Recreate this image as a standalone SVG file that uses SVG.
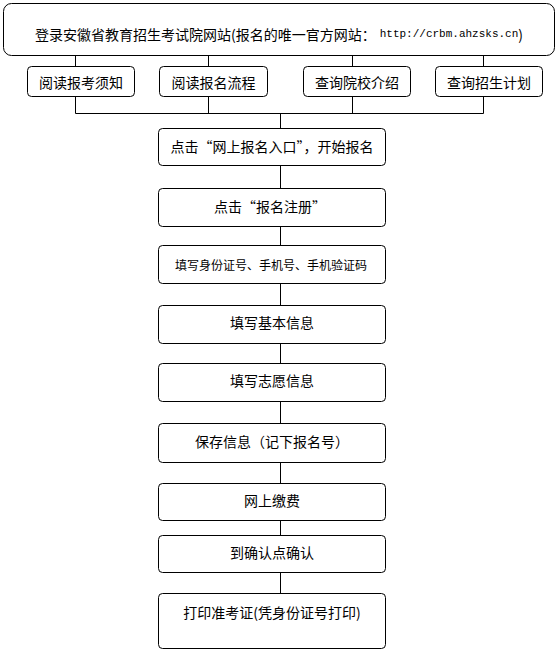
<svg xmlns="http://www.w3.org/2000/svg" width="558" height="666" viewBox="0 0 558 666">
<style>
.box{fill:#fff;stroke:#000;stroke-width:1}
.t{font-family:"Noto Sans CJK SC","Noto Sans",sans-serif;font-size:14px;fill:#000;text-anchor:middle;dominant-baseline:central}
.u{font-family:"Liberation Mono",monospace;font-size:11px}
.c{stroke:#000;stroke-width:1;fill:none}
</style>
<rect width="558" height="666" fill="#fff"/>
<g id="connectors">
<path class="c" d="M75.5 55V66M208.5 55V66M352.5 55V66M483.5 55V66"/>
<path class="c" d="M75.5 96V113.5H483.5V96M208.5 96V113.5M352.5 96V113.5M280.5 113.5V128"/>
<path class="c" d="M280.5 165V188M280.5 226V245M280.5 283V305M280.5 343V363M280.5 401V423M280.5 462V483M280.5 520V535M280.5 572V593"/>
</g>
<g id="n0"><rect class="box" x="3.5" y="3.5" width="551" height="52" rx="8"/>
<text class="t" x="279" y="34"><tspan>登录安徽省教育招生考试院网站(报名的唯一官方网站：</tspan><tspan class="u" dx="4">http://crbm.ahzsks.cn</tspan><tspan>)</tspan></text></g>
<g id="n1"><rect class="box" x="27.5" y="66.5" width="107" height="30" rx="4"/><text class="t" x="81" y="82">阅读报考须知</text></g>
<g id="n2"><rect class="box" x="159.5" y="66.5" width="108" height="30" rx="4"/><text class="t" x="213.5" y="82">阅读报名流程</text></g>
<g id="n3"><rect class="box" x="303.5" y="66.5" width="107" height="30" rx="4"/><text class="t" x="357" y="82">查询院校介绍</text></g>
<g id="n4"><rect class="box" x="435.5" y="66.5" width="107" height="30" rx="4"/><text class="t" x="489" y="82">查询招生计划</text></g>
<g id="s1"><rect class="box" x="158.5" y="128.5" width="227" height="37" rx="4"/><text class="t" x="272" y="146">点击“网上报名入口”，开始报名</text></g>
<g id="s2"><rect class="box" x="158.5" y="188.5" width="227" height="38" rx="4"/><text class="t" x="270" y="206">点击“报名注册”</text></g>
<g id="s3"><rect class="box" x="158.5" y="245.5" width="227" height="38" rx="4"/><text class="t" x="271" y="264" style="font-size:12px">填写身份证号、手机号、手机验证码</text></g>
<g id="s4"><rect class="box" x="158.5" y="305.5" width="227" height="38" rx="4"/><text class="t" x="272" y="322">填写基本信息</text></g>
<g id="s5"><rect class="box" x="158.5" y="363.5" width="227" height="38" rx="4"/><text class="t" x="272" y="380">填写志愿信息</text></g>
<g id="s6"><rect class="box" x="158.5" y="423.5" width="227" height="39" rx="4"/><text class="t" x="272" y="441">保存信息（记下报名号）</text></g>
<g id="s7"><rect class="box" x="158.5" y="483.5" width="227" height="37" rx="4"/><text class="t" x="272" y="500">网上缴费</text></g>
<g id="s8"><rect class="box" x="158.5" y="535.5" width="227" height="37" rx="4"/><text class="t" x="272" y="552">到确认点确认</text></g>
<g id="s9"><rect class="box" x="158.5" y="593.5" width="227" height="55" rx="4"/><text class="t" x="272" y="612">打印准考证(凭身份证号打印)</text></g>
</svg>
